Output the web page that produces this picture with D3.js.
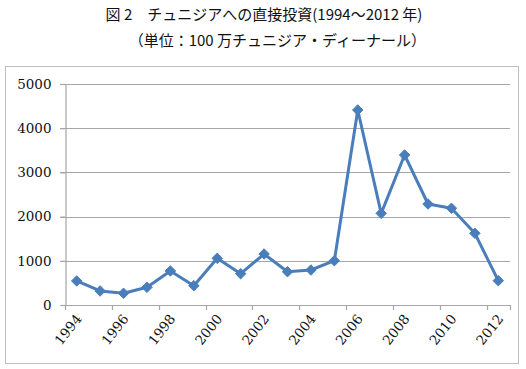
<!DOCTYPE html>
<html>
<head>
<meta charset="utf-8">
<script src="https://cdn.jsdelivr.net/npm/d3@7"></script>
<style>
  html, body { margin: 0; padding: 0; background: #fff; }
  svg { display: block; }
</style>
</head>
<body>
<div id="chart"></div>
<script>
  // Direct investment in Tunisia, 1994-2012 (million TND)
  const YEARS  = [1994,1995,1996,1997,1998,1999,2000,2001,2002,2003,2004,2005,2006,2007,2008,2009,2010,2011,2012];
  const VALUES = [545,317,265,400,770,437,1056,708,1154,753,792,1002,4412,2074,3394,2285,2188,1622,550];
  const Y_TICKS = [0,1000,2000,3000,4000,5000];
  const X_LABELS = [1994,1996,1998,2000,2002,2004,2006,2008,2010,2012];

  const W = 526, H = 369;
  const PLOT = { left: 65, right: 510, top: 84, bottom: 305 };
  const LINE_COLOR = "#4a7ebb";
  const GRID_COLOR = "#a6a6a6";
  const TITLE_FONT = "Noto Sans CJK JP";
  const TICK_FONT = "DejaVu Serif";

  const svg = d3.select("#chart").append("svg")
    .attr("width", W).attr("height", H).attr("viewBox", `0 0 ${W} ${H}`);

  // titles
  svg.append("text")
    .attr("x", 264).attr("y", 20).attr("text-anchor","middle")
    .attr("font-family", TITLE_FONT).attr("font-size", 15).attr("fill", "#111")
    .text("図 2　チュニジアへの直接投資(1994～2012 年)");
  svg.append("text")
    .attr("x", 426).attr("y", 46).attr("text-anchor","end")
    .attr("font-family", TITLE_FONT).attr("font-size", 15).attr("fill", "#111")
    .text("（単位：100 万チュニジア・ディーナール）");

  // outer chart frame
  svg.append("rect")
    .attr("x", 5.5).attr("y", 66.5).attr("width", 513).attr("height", 297)
    .attr("fill","none").attr("stroke","#bfbfbf").attr("stroke-width",1);

  const x = d3.scaleBand().domain(YEARS).range([PLOT.left, PLOT.right]).paddingInner(0).paddingOuter(0);
  const y = d3.scaleLinear().domain([0, 5000]).range([PLOT.bottom, PLOT.top]);

  // horizontal grid
  svg.append("g")
    .selectAll("line").data(Y_TICKS.filter(d => d > 0)).join("line")
    .attr("x1", PLOT.left - 5).attr("x2", PLOT.right)
    .attr("y1", d => Math.round(y(d)) + 0.5).attr("y2", d => Math.round(y(d)) + 0.5)
    .attr("stroke", GRID_COLOR).attr("stroke-width", 1.2);

  // y axis
  const yAxis = svg.append("g").attr("transform", `translate(${PLOT.left + 0.5},0)`)
    .call(d3.axisLeft(y).tickValues(Y_TICKS).tickSize(5).tickPadding(9).tickFormat(d3.format("d")));
  yAxis.attr("font-family", TICK_FONT).attr("font-size", 13.5);
  yAxis.select(".domain").attr("stroke", GRID_COLOR).attr("stroke-width", 1.2);
  yAxis.selectAll(".tick line").attr("stroke", GRID_COLOR).attr("stroke-width", 1.2);
  yAxis.selectAll(".tick text")
    .attr("font-family", TICK_FONT).attr("font-size", 13.5).attr("fill", "#111");

  // x axis: boundary tick marks every 2 categories
  const boundaries = YEARS.filter((d, i) => i % 2 === 0).map(d => x(d)).concat([PLOT.right]);
  const xg = svg.append("g").attr("font-family", TICK_FONT).attr("font-size", 13.5);
  xg.append("line")
    .attr("x1", PLOT.left).attr("x2", PLOT.right)
    .attr("y1", PLOT.bottom + 0.5).attr("y2", PLOT.bottom + 0.5)
    .attr("stroke", GRID_COLOR).attr("stroke-width", 1.2);
  xg.selectAll(".xt").data(boundaries).join("line").attr("class","xt")
    .attr("x1", d => Math.round(d) + 0.5).attr("x2", d => Math.round(d) + 0.5)
    .attr("y1", PLOT.bottom).attr("y2", PLOT.bottom + 5)
    .attr("stroke", GRID_COLOR).attr("stroke-width", 1.2);
  xg.selectAll(".xl").data(X_LABELS).join("text").attr("class","xl")
    .attr("text-anchor","end")
    .attr("transform", d => `translate(${x(d) + x.bandwidth()/2 + 2},${PLOT.bottom + 11}) rotate(-52)`)
    .attr("dy","0.35em")
    .attr("font-family", TICK_FONT).attr("font-size", 13.5).attr("fill", "#111")
    .text(d => d);

  // series line
  const pts = YEARS.map((yr, i) => ({ year: yr, value: VALUES[i] }));
  const line = d3.line().x(d => x(d.year) + x.bandwidth()/2).y(d => y(d.value));
  svg.append("path").datum(pts)
    .attr("fill","none").attr("stroke", LINE_COLOR).attr("stroke-width", 3)
    .attr("stroke-linejoin","round").attr("d", line);

  // diamond markers
  const diamond = d3.symbol().type(d3.symbolDiamond2).size(70);
  svg.selectAll(".mk").data(pts).join("path").attr("class","mk")
    .attr("transform", d => `translate(${x(d.year) + x.bandwidth()/2},${y(d.value)})`)
    .attr("d", diamond).attr("fill", LINE_COLOR).attr("stroke", LINE_COLOR).attr("stroke-width", 1);
</script>
</body>
</html>
